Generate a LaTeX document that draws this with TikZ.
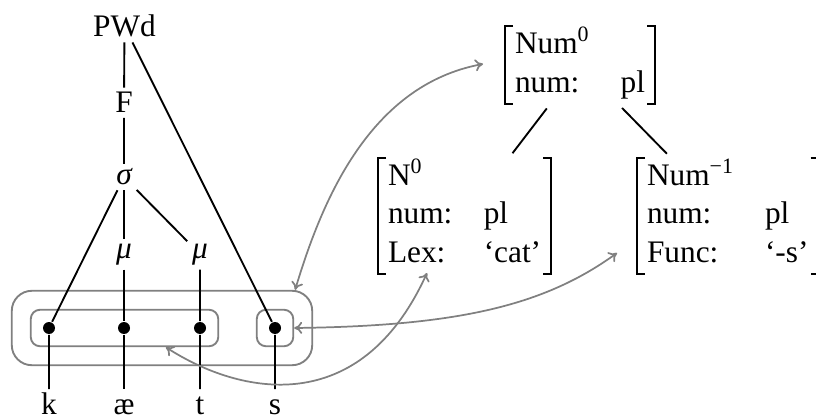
\documentclass[tikz,border=0pt]{standalone}
\usepackage{fontspec}
\setmainfont{Liberation Serif}
\usetikzlibrary{fit,arrows.meta}

\tikzset{every picture/.style={line width=1.4pt}}
\tikzset{
  lbl/.style={inner sep=3pt, font=\fontsize{23.5}{29}\selectfont},
  seg/.style={lbl, text height=15pt, text depth=0pt},
  bullet/.style={circle, fill, inner sep=0pt, minimum size=9pt},
  grp/.style={draw=black!50, rounded corners=7pt, inner sep=8.5pt},
  avm/.style={lbl, inner xsep=7.5pt, inner ysep=0pt, outer sep=0pt},
  brk/.style={line width=1.7pt, line join=miter},
  link/.style={draw=black!50, line width=1.3pt,
    {Computer Modern Rightarrow[length=6pt,width=9pt]}-{Computer Modern Rightarrow[length=6pt,width=9pt]}},
}

\begin{document}
\begin{tikzpicture}[x=0.75pt,y=0.75pt,yscale=-1,xscale=1]
\useasboundingbox (0,0) rectangle (816,416);

% prosodic tree
\node[lbl, anchor=base] (pwd) at (124.5,37) {PWd};
\node[lbl, anchor=base] (ft) at (124,113) {F};
\node[lbl, anchor=base] (syl) at (124,185) {\itshape σ};
\node[lbl, anchor=base] (mu1) at (124,258) {\itshape μ};
\node[lbl, anchor=base] (mu2) at (200,258) {\itshape μ};

% root nodes and segments
\node[bullet] (dk) at (49,328) {};
\node[bullet] (dae) at (124,328) {};
\node[bullet] (dt) at (200,328) {};
\node[bullet] (ds) at (275,328) {};
\node[seg, anchor=base] (k) at (49,414) {k};
\node[seg, anchor=base] (ae) at (124,414) {æ};
\node[seg, anchor=base] (t) at (200,414) {t};
\node[seg, anchor=base] (s) at (275,414) {s};

% morpheme groupings
\node[grp, fit=(dk)(dt)] (stem) {};
\node[grp, fit=(ds)] (suf) {};
\node[grp, fit=(stem)(suf), inner sep=13.5pt, rounded corners=15pt] (word) {};

% association lines
\draw (pwd) -- (ft) -- (syl);
\draw (syl) -- (dk) -- (k);
\draw (syl) -- (mu1) -- (dae) -- (ae);
\draw (syl) -- (mu2) -- (dt) -- (t);
\draw (pwd) -- (ds) -- (s);

% feature structures
\node[avm, anchor=west] (num0) at (505,65) {\begin{tabular}{@{}l@{\quad}l@{}}Num\textsuperscript{0} & \\ num: & pl\end{tabular}};
\node[avm, anchor=west] (n0) at (378,216) {\begin{tabular}{@{}l@{\quad}l@{}}N\textsuperscript{0} & \\ num: & pl\\ Lex: & `cat'\end{tabular}};
\node[avm, anchor=west] (numm) at (637,216) {\begin{tabular}{@{}l@{\quad}l@{}}Num\textsuperscript{−1} & \\ num: & pl\\ Func: & `-s'\end{tabular}};
\foreach \f in {num0,n0,numm} {
  \draw[brk] ([xshift=6pt]\f.north west) -- (\f.north west) -- (\f.south west) -- ([xshift=6pt]\f.south west);
  \draw[brk] ([xshift=-6pt]\f.north east) -- (\f.north east) -- (\f.south east) -- ([xshift=-6pt]\f.south east);
}
\draw[shorten <=4.5pt, shorten >=4.5pt] (num0) -- (n0);
\draw[shorten <=4.5pt, shorten >=4.5pt] (num0) -- (numm);

% correspondences
\coordinate (tip0) at (483,64);
\coordinate (tipL) at (427,273);
\coordinate (tipF) at (617,253);
\draw[link] ([xshift=-13.5pt]word.north east) .. controls (322,200) and (370,85) .. (tip0);
\draw[link] (suf.east) .. controls (460,326) and (545,305) .. (tipF);
\draw[link] ([xshift=31pt]stem.south) .. controls (240,395) and (360,420) .. (tipL);
\end{tikzpicture}
\end{document}
